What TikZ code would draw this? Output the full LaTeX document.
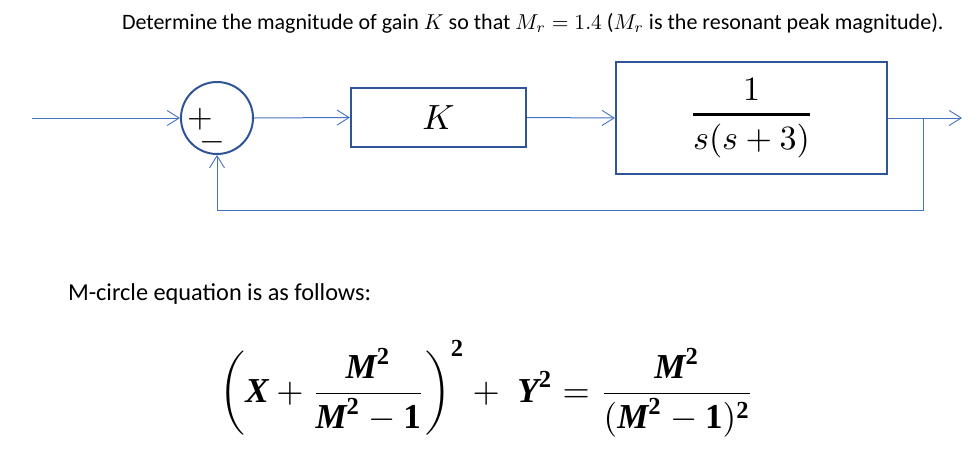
\documentclass[tikz,border=0pt]{standalone}
\usepackage{graphicx}
\usepackage{amsmath}
\usepackage{fontspec}
\setmainfont{Carlito}
\newfontfamily\eqfont{Liberation Serif}
\newcommand\bv[1]{\text{\eqfont\bfseries\itshape #1}}
\newcommand\bn[1]{\text{\eqfont\bfseries #1}}
\newcommand\bigmath[2]{\scalebox{#1}{\fontsize{10}{12}\selectfont #2}}
\newcommand\tm[1]{\bigmath{2.15}{$#1$}}
\usetikzlibrary{arrows.meta}
\definecolor{lineblue}{HTML}{4472C4}
\definecolor{boxblue}{HTML}{2F5597}
\begin{document}
\begin{tikzpicture}[x=1pt,y=-1pt,
  conn/.style={draw=lineblue, line width=1pt, -{Straight Barb[length=12pt,width=15pt,line width=0.9pt]}},
  blockbox/.style={draw=boxblue, line width=2.2pt, rectangle, inner sep=0pt},
  sumcirc/.style={draw=boxblue, line width=2pt, circle, minimum size=72pt, inner sep=0pt},
  txt/.style={inner sep=0pt, outer sep=0pt, text=black}]
\useasboundingbox (0,0) rectangle (979,461);
% title
\node[txt, anchor=base west] (title) at (122,29) {\fontsize{22}{26}\selectfont Determine the magnitude of gain \tm{K} so that \tm{M_r=1.4} (\tm{M_r} is the resonant peak magnitude).};
% blocks
\node[sumcirc] (sum) at (217,118) {};
\node[txt, anchor=base west] (signs) at (187.2,127.7) {\bigmath{3.3}{\rlap{$+$}\kern3.6pt\raisebox{-6.8pt}{$-$}}};
\node[blockbox, minimum width=175pt, minimum height=59pt] (kbox) at (438.5,117.5) {\bigmath{3.5}{$K$}};
\node[blockbox, minimum width=271pt, minimum height=112pt] (gbox) at (751.5,118) {\bigmath{3.4}{$\genfrac{}{}{0.75pt}{0}{1}{s(s+3)}$}};
% coordinates
\coordinate (in) at (32,118);
\coordinate (out) at (962,118);
\coordinate (branch) at (923,118);
\coordinate (fbR) at (923,210);
\coordinate (fbL) at (217,210);
% connectors
\draw[conn] (in) -- (sum.west);
\draw[conn] (sum.east) -- (kbox.west);
\draw[conn] (kbox.east) -- (gbox.west);
\draw[conn] (gbox.east) -- (out);
\draw[conn] (branch) -- (fbR) -- (fbL) -- (sum.south);
% text
\node[txt, anchor=base west] (mcirc) at (68,300) {\fontsize{24.3}{28}\selectfont M-circle equation is as follows:};
\node[txt] (eq) at (487,389) {\bigmath{3.5}{$\displaystyle \left(\bv{X}+\frac{\bv{M}^{\bn{2}}}{\bv{M}^{\bn{2}}-\bn{1}}\right)^{\bn{2}}+\;\bv{Y}^{\bn{2}}=\frac{\bv{M}^{\bn{2}}}{(\bv{M}^{\bn{2}}-\bn{1})^{\bn{2}}}$}};
\end{tikzpicture}
\end{document}
